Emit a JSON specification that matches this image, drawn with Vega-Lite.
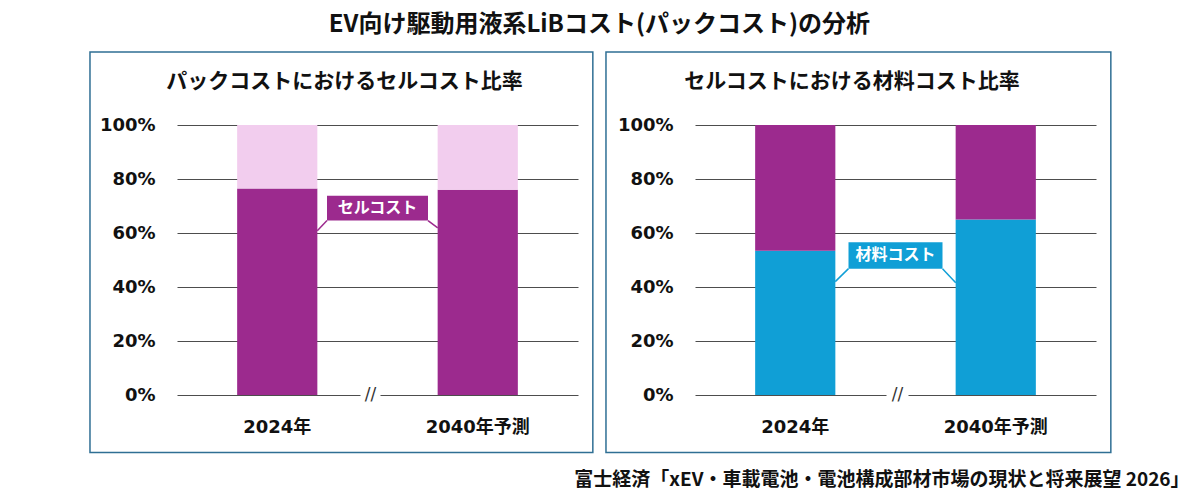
{
  "$schema": "https://vega.github.io/schema/vega-lite/v6.json",
  "background": "white",
  "padding": {"left": 89, "top": 13, "right": 5, "bottom": 5},
  "config": {"view": {"stroke": null}},
  "title": {"text": "EV向け駆動用液系LiBコスト(パックコスト)の分析", "font": "Noto Sans CJK JP", "fontSize": 24, "fontWeight": "bold", "color": "#111111", "anchor": "middle", "offset": 14, "dx": -40},
  "vconcat": [
    {
      "title": {"text": "富士経済「xEV・車載電池・電池構成部材市場の現状と将来展望 2026」", "orient": "bottom", "anchor": "end", "font": "Noto Sans CJK JP", "fontSize": 19, "fontWeight": "bold", "color": "#111111", "offset": 18, "dx": 78},
      "spacing": 11,
      "resolve": {"scale": {"color": "independent"}},
      "hconcat": [
        {
          "width": 401,
          "height": 270,
          "title": {"text": "パックコストにおけるセルコスト比率", "anchor": "start", "dx": 77, "offset": -41, "font": "Noto Sans CJK JP", "fontSize": 21, "fontWeight": "bold", "color": "#111111"},
          "resolve": {"scale": {"x": "independent", "y": "independent"}},
          "layer": [
            {
              "data": {"values": [{}]},
              "mark": {"type": "rect", "fill": "transparent", "stroke": "#2f6f94", "strokeWidth": 1.5},
              "encoding": {
                "x": {"datum": -0.217, "type": "quantitative", "scale": {"domain": [0, 1]}, "axis": null},
                "x2": {"datum": 1.037},
                "y": {"datum": -0.213, "type": "quantitative", "scale": {"domain": [0, 1]}, "axis": null},
                "y2": {"datum": 1.27}
              }
            },
            {
              "layer": [
                {
                  "data": {"values": [
                    {"year": "2024年", "part": "セルコスト", "value": 76.5},
                    {"year": "2024年", "part": "その他", "value": 23.5},
                    {"year": "2040年予測", "part": "セルコスト", "value": 76},
                    {"year": "2040年予測", "part": "その他", "value": 24}
                  ]},
                  "mark": {"type": "bar"},
                  "encoding": {
                    "x": {"field": "year", "type": "nominal", "scale": {"domain": ["2024年", "//", "2040年予測"], "paddingInner": 0.2, "paddingOuter": 0.6},
                      "axis": {"orient": "bottom", "title": null, "labelAngle": 0, "labelExpr": "datum.label == '//' ? '' : datum.label", "domain": false, "ticks": false, "labelFont": "DejaVu Sans, Noto Sans CJK JP", "labelFontSize": 18, "labelFontWeight": "bold", "labelColor": "#111111", "labelPadding": 23}},
                    "y": {"field": "value", "type": "quantitative", "stack": "zero", "scale": {"domain": [0, 100], "nice": false},
                      "axis": {"orient": "left", "title": null, "values": [0, 20, 40, 60, 80, 100], "labelExpr": "datum.value + '%'", "domain": false, "ticks": false, "grid": true, "gridColor": "#4d4d4d", "gridWidth": 1, "labelFont": "DejaVu Sans", "labelFontSize": 18, "labelFontWeight": "bold", "labelColor": "#111111", "labelPadding": 22}},
                    "color": {"field": "part", "type": "nominal", "scale": {"domain": ["セルコスト", "その他"], "range": ["#9c2a8e", "#f2cdee"]}, "legend": null},
                    "order": {"field": "part", "sort": "descending"}
                  }
                },
                {
                  "data": {"values": [{}]},
                  "mark": {"type": "rule", "color": "white", "strokeWidth": 4, "xOffset": -17, "x2Offset": 3},
                  "encoding": {"x": {"datum": "//"}, "x2": {"datum": "//"}, "y": {"datum": 0, "type": "quantitative"}}
                },
                {
                  "data": {"values": [{}]},
                  "mark": {"type": "text", "text": "//", "font": "DejaVu Sans", "fontSize": 17, "color": "#333333", "baseline": "middle", "dx": -7},
                  "encoding": {"x": {"datum": "//"}, "y": {"datum": 0, "type": "quantitative"}}
                },
                {
                  "data": {"values": [{}]},
                  "mark": {"type": "rule", "color": "#9c2a8e", "strokeWidth": 1.5, "xOffset": -50.5, "x2Offset": 40},
                  "encoding": {"x": {"datum": "//"}, "x2": {"datum": "2024年"}, "y": {"datum": 64.6, "type": "quantitative"}, "y2": {"datum": 60.8}}
                },
                {
                  "data": {"values": [{}]},
                  "mark": {"type": "rule", "color": "#9c2a8e", "strokeWidth": 1.5, "xOffset": 50.5, "x2Offset": -40},
                  "encoding": {"x": {"datum": "//"}, "x2": {"datum": "2040年予測"}, "y": {"datum": 64.6, "type": "quantitative"}, "y2": {"datum": 61.9}}
                },
                {
                  "data": {"values": [{}]},
                  "mark": {"type": "bar", "width": 101, "color": "#9c2a8e"},
                  "encoding": {"x": {"datum": "//"}, "y": {"datum": 64.6, "type": "quantitative"}, "y2": {"datum": 73.8}}
                },
                {
                  "data": {"values": [{}]},
                  "mark": {"type": "text", "text": "セルコスト", "font": "Noto Sans CJK JP", "fontSize": 16, "fontWeight": "bold", "color": "white", "baseline": "middle"},
                  "encoding": {"x": {"datum": "//"}, "y": {"datum": 69.2, "type": "quantitative"}}
                }
              ]
            }
          ]
        },
        {
          "width": 401,
          "height": 270,
          "title": {"text": "セルコストにおける材料コスト比率", "anchor": "start", "dx": 79, "offset": -41, "font": "Noto Sans CJK JP", "fontSize": 21, "fontWeight": "bold", "color": "#111111"},
          "resolve": {"scale": {"x": "independent", "y": "independent"}},
          "layer": [
            {
              "data": {"values": [{}]},
              "mark": {"type": "rect", "fill": "transparent", "stroke": "#2f6f94", "strokeWidth": 1.5},
              "encoding": {
                "x": {"datum": -0.222, "type": "quantitative", "scale": {"domain": [0, 1]}, "axis": null},
                "x2": {"datum": 1.037},
                "y": {"datum": -0.213, "type": "quantitative", "scale": {"domain": [0, 1]}, "axis": null},
                "y2": {"datum": 1.27}
              }
            },
            {
              "layer": [
                {
                  "data": {"values": [
                    {"year": "2024年", "part": "材料コスト", "value": 53.4},
                    {"year": "2024年", "part": "その他", "value": 46.6},
                    {"year": "2040年予測", "part": "材料コスト", "value": 65},
                    {"year": "2040年予測", "part": "その他", "value": 35}
                  ]},
                  "mark": {"type": "bar"},
                  "encoding": {
                    "x": {"field": "year", "type": "nominal", "scale": {"domain": ["2024年", "//", "2040年予測"], "paddingInner": 0.2, "paddingOuter": 0.6},
                      "axis": {"orient": "bottom", "title": null, "labelAngle": 0, "labelExpr": "datum.label == '//' ? '' : datum.label", "domain": false, "ticks": false, "labelFont": "DejaVu Sans, Noto Sans CJK JP", "labelFontSize": 18, "labelFontWeight": "bold", "labelColor": "#111111", "labelPadding": 23}},
                    "y": {"field": "value", "type": "quantitative", "stack": "zero", "scale": {"domain": [0, 100], "nice": false},
                      "axis": {"orient": "left", "title": null, "values": [0, 20, 40, 60, 80, 100], "labelExpr": "datum.value + '%'", "domain": false, "ticks": false, "grid": true, "gridColor": "#4d4d4d", "gridWidth": 1, "labelFont": "DejaVu Sans", "labelFontSize": 18, "labelFontWeight": "bold", "labelColor": "#111111", "labelPadding": 22}},
                    "color": {"field": "part", "type": "nominal", "scale": {"domain": ["材料コスト", "その他"], "range": ["#109fd6", "#9c2a8e"]}, "legend": null},
                    "order": {"field": "part", "sort": "descending"}
                  }
                },
                {
                  "data": {"values": [{}]},
                  "mark": {"type": "rule", "color": "white", "strokeWidth": 4, "xOffset": -9, "x2Offset": 13},
                  "encoding": {"x": {"datum": "//"}, "x2": {"datum": "//"}, "y": {"datum": 0, "type": "quantitative"}}
                },
                {
                  "data": {"values": [{}]},
                  "mark": {"type": "text", "text": "//", "font": "DejaVu Sans", "fontSize": 17, "color": "#333333", "baseline": "middle", "dx": 2},
                  "encoding": {"x": {"datum": "//"}, "y": {"datum": 0, "type": "quantitative"}}
                },
                {
                  "data": {"values": [{}]},
                  "mark": {"type": "rule", "color": "#109fd6", "strokeWidth": 1.5, "xOffset": -47, "x2Offset": 40},
                  "encoding": {"x": {"datum": "//"}, "x2": {"datum": "2024年"}, "y": {"datum": 46.8, "type": "quantitative"}, "y2": {"datum": 42.0}}
                },
                {
                  "data": {"values": [{}]},
                  "mark": {"type": "rule", "color": "#109fd6", "strokeWidth": 1.5, "xOffset": 47, "x2Offset": -40},
                  "encoding": {"x": {"datum": "//"}, "x2": {"datum": "2040年予測"}, "y": {"datum": 46.8, "type": "quantitative"}, "y2": {"datum": 41.6}}
                },
                {
                  "data": {"values": [{}]},
                  "mark": {"type": "bar", "width": 94, "color": "#109fd6"},
                  "encoding": {"x": {"datum": "//"}, "y": {"datum": 46.8, "type": "quantitative"}, "y2": {"datum": 56.6}}
                },
                {
                  "data": {"values": [{}]},
                  "mark": {"type": "text", "text": "材料コスト", "font": "Noto Sans CJK JP", "fontSize": 16, "fontWeight": "bold", "color": "white", "baseline": "middle"},
                  "encoding": {"x": {"datum": "//"}, "y": {"datum": 51.7, "type": "quantitative"}}
                }
              ]
            }
          ]
        }
      ]
    }
  ]
}
